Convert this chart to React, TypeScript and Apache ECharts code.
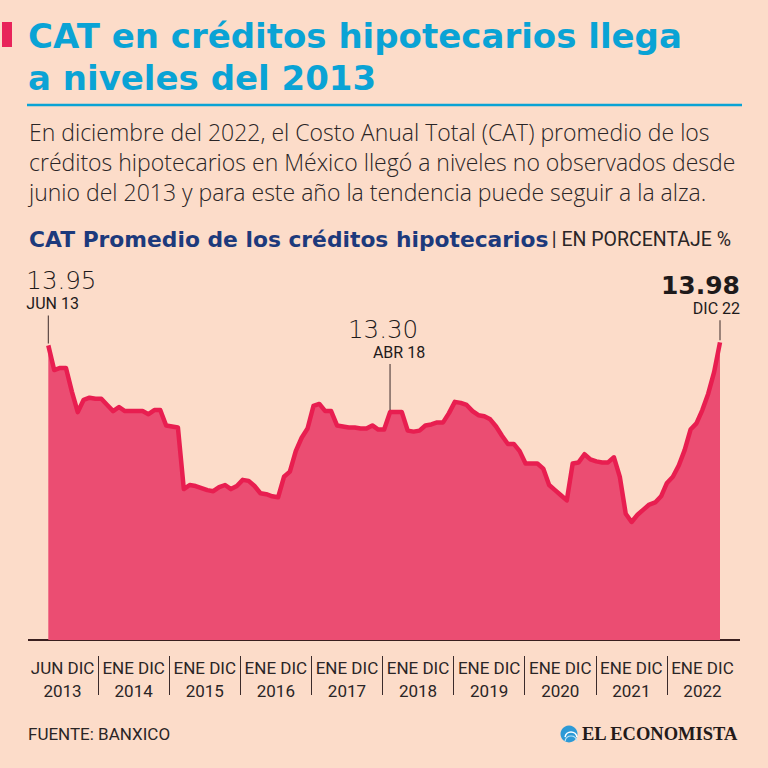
import React, { useEffect, useRef } from "react";
import * as echarts from "echarts";

// ---------- data ----------
const MONTH_ABBR = ["ENE", "FEB", "MAR", "ABR", "MAY", "JUN", "JUL", "AGO", "SEP", "OCT", "NOV", "DIC"];

const V2013 = [13.95, 13.71, 13.73, 13.73, 13.5, 13.3, 13.42];
const V2014 = [13.44, 13.43, 13.43, 13.37, 13.31, 13.35, 13.31, 13.31, 13.31, 13.31, 13.28, 13.32];
const V2015 = [13.32, 13.17, 13.16, 13.15, 12.55, 12.59, 12.58, 12.56, 12.54, 12.53, 12.57, 12.59];
const V2016 = [12.55, 12.58, 12.64, 12.63, 12.58, 12.51, 12.5, 12.48, 12.47, 12.67, 12.72, 12.92];
const V2017 = [13.05, 13.14, 13.36, 13.38, 13.31, 13.31, 13.17, 13.16, 13.15, 13.15, 13.14, 13.14];
const V2018 = [13.17, 13.13, 13.13, 13.3, 13.3, 13.3, 13.12, 13.11, 13.12, 13.17, 13.18, 13.2];
const V2019 = [13.2, 13.29, 13.4, 13.39, 13.37, 13.31, 13.27, 13.26, 13.23, 13.16, 13.07, 12.99];
const V2020 = [12.99, 12.92, 12.8, 12.8, 12.8, 12.75, 12.59, 12.54, 12.49, 12.44, 12.8, 12.81];
const V2021 = [12.89, 12.84, 12.82, 12.81, 12.81, 12.86, 12.67, 12.31, 12.23, 12.3, 12.35, 12.4];
const V2022 = [12.42, 12.48, 12.61, 12.67, 12.78, 12.93, 13.13, 13.19, 13.32, 13.48, 13.69, 13.98];

const VALUES = [...V2013, ...V2014, ...V2015, ...V2016, ...V2017, ...V2018, ...V2019, ...V2020, ...V2021, ...V2022];

const MONTHS: string[] = [];
for (let y = 2013; y <= 2022; y++) {
  for (let m = y === 2013 ? 5 : 0; m < 12; m++) {
    MONTHS.push(`${MONTH_ABBR[m]} ${String(y).slice(2)}`);
  }
}

const YEARS = ["2013", "2014", "2015", "2016", "2017", "2018", "2019", "2020", "2021", "2022"];
const YEAR_RANGES = ["JUN DIC", "ENE DIC", "ENE DIC", "ENE DIC", "ENE DIC", "ENE DIC", "ENE DIC", "ENE DIC", "ENE DIC", "ENE DIC"];

const HIGHLIGHT_FIRST = 0;
const HIGHLIGHT_MID = MONTHS.indexOf("ABR 18");
const HIGHLIGHT_LAST = MONTHS.length - 1;

const Y_MIN = 11.08;
const Y_MAX = 14.1;

const TITLE_LINES = ["CAT en créditos hipotecarios llega", "a niveles del 2013"];
const BODY_LINES = [
  "En diciembre del 2022, el Costo Anual Total (CAT) promedio de los",
  "créditos hipotecarios en México llegó a niveles no observados desde",
  "junio del 2013 y para este año la tendencia puede seguir a la alza.",
];
const SUBTITLE = "CAT Promedio de los créditos hipotecarios";
const UNIT = "| EN PORCENTAJE %";
const SOURCE = "FUENTE: BANXICO";
const BRAND = "EL ECONOMISTA";

// ---------- styles ----------
const BG = "#fcdcc9";
const CYAN = "#0aa3d5";
const NAVY = "#1d3a7c";
const TEXT = "#2a2526";
const LINE = "#e81e50";
const AREA = "#eb4d72";
const SANS = "Roboto, 'Noto Sans', sans-serif";
const WIDE = "'DejaVu Sans', Roboto, sans-serif";
const BODY = "'Open Sans', Roboto, sans-serif";

function annotation(idx: number, leader: number, align: "left" | "center" | "right", dx: number, bold: boolean, vPad: number[], dPad: number[]) {
  return {
    coord: [MONTHS[idx], VALUES[idx]],
    symbol: "rect",
    symbolSize: [1, leader],
    symbolOffset: [0, -leader / 2 - 2],
    itemStyle: { color: "#3b2b2b" },
    label: {
      show: true,
      position: "top",
      distance: 3,
      align,
      offset: [dx, 0],
      formatter: `{v|${VALUES[idx].toFixed(2)}}\n{d|${MONTHS[idx]}}`,
      rich: {
        v: {
          fontFamily: WIDE,
          fontSize: bold ? 25 : 24.5,
          fontWeight: bold ? 700 : 200,
          color: "#1e1a1b",
          lineHeight: 28,
          align,
          padding: vPad,
        },
        d: {
          fontFamily: SANS,
          fontSize: 16,
          fontWeight: 400,
          color: "#1e1a1b",
          lineHeight: 18,
          align,
          padding: dPad,
        },
      },
    },
  };
}

export default function App() {
  const ref = useRef<HTMLDivElement>(null);

  useEffect(() => {
    document.body.style.margin = "0";
    if (!ref.current) return;
    const chart = echarts.init(ref.current, undefined, { renderer: "svg" });

    const graphic: any[] = [
      { type: "rect", shape: { x: 2, y: 22, width: 10, height: 25 }, style: { fill: "#e8245a" } },
      ...TITLE_LINES.map((t, i) => ({
        type: "text",
        x: 28,
        y: 36 + i * 42,
        style: { text: t, fill: CYAN, fontFamily: WIDE, fontSize: 34, fontWeight: 700, verticalAlign: "middle", textVerticalAlign: "middle" },
      })),
      { type: "line", shape: { x1: 27, y1: 105, x2: 742, y2: 105 }, style: { stroke: CYAN, lineWidth: 2.5 } },
      ...BODY_LINES.map((t, i) => ({
        type: "text",
        x: 29,
        y: 132 + i * 30,
        style: { text: t, fill: TEXT, fontFamily: BODY, fontSize: 23, fontWeight: 300, verticalAlign: "middle", textVerticalAlign: "middle" },
      })),
      {
        type: "text",
        x: 29,
        y: 239,
        style: {
          text: `{b|${SUBTITLE}} {u|${UNIT}}`,
          verticalAlign: "middle",
          textVerticalAlign: "middle",
          rich: {
            b: { fontFamily: WIDE, fontSize: 21.8, fontWeight: 700, fill: NAVY, color: NAVY },
            u: { fontFamily: SANS, fontSize: 19.5, fontWeight: 400, fill: TEXT, color: TEXT },
          },
        },
      },
      { type: "line", shape: { x1: 28, y1: 640, x2: 740, y2: 640 }, style: { stroke: "#3a1f1f", lineWidth: 2 } },
      {
        type: "text",
        x: 28,
        y: 734,
        style: { text: SOURCE, fill: TEXT, fontFamily: SANS, fontSize: 17, fontWeight: 400, verticalAlign: "middle", textVerticalAlign: "middle" },
      },
      { type: "circle", shape: { cx: 569, cy: 734, r: 8.5 }, style: { fill: "#2d9ad6" } },
      { type: "arc", shape: { cx: 571, cy: 738, r: 6, startAngle: Math.PI * 1.05, endAngle: Math.PI * 1.95 }, style: { stroke: "#ffffff", lineWidth: 1.5, fill: "none" } },
      { type: "arc", shape: { cx: 571, cy: 742, r: 6, startAngle: Math.PI * 1.05, endAngle: Math.PI * 1.95 }, style: { stroke: "#bfe6f7", lineWidth: 1.2, fill: "none" } },
      {
        type: "text",
        x: 582,
        y: 734,
        style: { text: BRAND, fill: "#231a1a", fontFamily: "'Liberation Serif', 'DejaVu Serif', serif", fontSize: 18.5, fontWeight: 700, verticalAlign: "middle", textVerticalAlign: "middle" },
      },
    ];

    const option: any = {
      animation: false,
      backgroundColor: BG,
      graphic,
      grid: [
        { left: 48.3, right: 48, top: 330, bottom: 128 },
        { left: 27, right: 30, top: 656, height: 39 },
      ],
      xAxis: [
        {
          type: "category",
          gridIndex: 0,
          data: MONTHS,
          boundaryGap: false,
          show: false,
        },
        {
          type: "category",
          gridIndex: 1,
          data: YEARS,
          position: "top",
          boundaryGap: true,
          axisLine: { show: false },
          axisTick: { show: false },
          splitLine: { show: true, interval: 0, showMinLine: false, showMaxLine: false, lineStyle: { color: "#3b2b2b", width: 1 } },
          axisLabel: {
            inside: true,
            interval: 0,
            margin: 0,
            verticalAlign: "top",
            lineHeight: 23,
            fontSize: 17,
            fontFamily: SANS,
            color: TEXT,
            formatter: (v: string, i: number) => `${YEAR_RANGES[i]}\n${v}`,
          },
        },
      ],
      yAxis: [
        { type: "value", gridIndex: 0, min: Y_MIN, max: Y_MAX, show: false },
        { type: "value", gridIndex: 1, show: false },
      ],
      series: [
        {
          type: "line",
          xAxisIndex: 0,
          yAxisIndex: 0,
          data: VALUES,
          symbol: "none",
          lineStyle: { color: LINE, width: 4.5, join: "round" },
          areaStyle: { color: AREA, opacity: 1 },
          z: 3,
          markPoint: {
            silent: true,
            z: 5,
            data: [
              annotation(HIGHLIGHT_FIRST, 28, "left", -22, false, [0, 0, 0, 0], [0, 0, 0, 0]),
              annotation(HIGHLIGHT_MID, 46, "center", 0, false, [0, 14, 0, 0], [0, 0, 0, 18]),
              annotation(HIGHLIGHT_LAST, 20, "right", 20, true, [0, 0, 0, 0], [0, 0, 0, 0]),
            ],
          },
        },
      ],
    };

    chart.setOption(option);
    return () => chart.dispose();
  }, []);

  return <div ref={ref} style={{ width: 768, height: 768, background: BG }} />;
}
